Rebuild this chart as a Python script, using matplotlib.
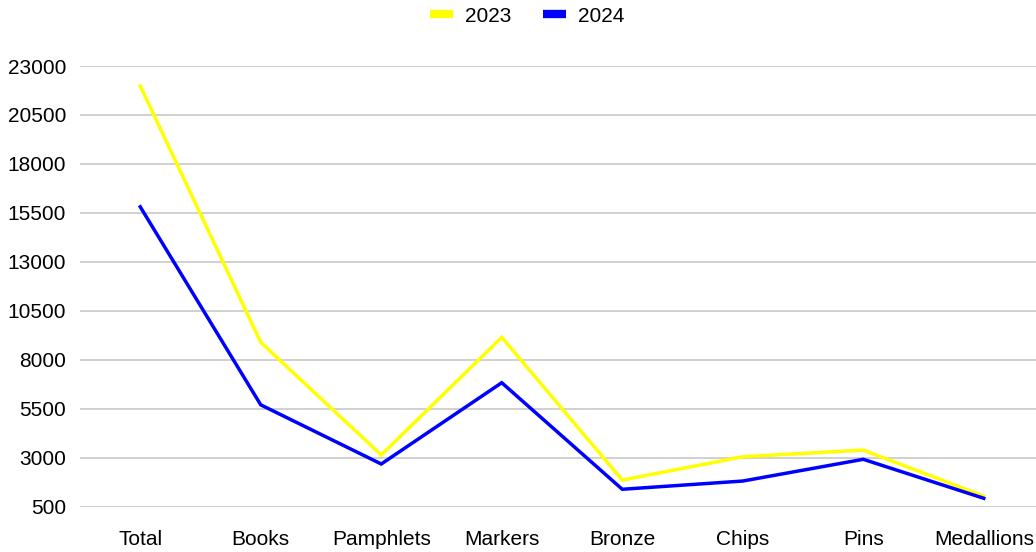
import matplotlib.pyplot as plt
from matplotlib.lines import Line2D

plt.rcParams['font.family'] = ['Liberation Sans', 'DejaVu Sans']

categories = ['Total', 'Books', 'Pamphlets', 'Markers', 'Bronze', 'Chips', 'Pins', 'Medallions']
values_2023 = [21980, 8890, 3140, 9150, 1860, 3050, 3390, 1040]
values_2024 = [15810, 5700, 2680, 6830, 1390, 1810, 2920, 930]
yticks = [500, 3000, 5500, 8000, 10500, 13000, 15500, 18000, 20500, 23000]

fig = plt.figure(figsize=(10.36, 5.52), dpi=100)
ax = fig.add_axes([80 / 1036, 1 - 506.7 / 552, 964 / 1036, 440.7 / 552])

x = range(len(categories))
ax.plot(x, values_2023, color='#ffff00', lw=2.5, solid_joinstyle='miter', zorder=3)
ax.plot(x, values_2024, color='#0000ff', lw=2.5, solid_joinstyle='miter', zorder=4)

ax.set_xlim(-0.5, len(categories) - 0.5)
ax.set_ylim(500, 23000)
ax.set_yticks(yticks)
ax.set_yticklabels([str(v) for v in yticks])
ax.set_xticks(list(x))
ax.set_xticklabels(categories)
ax.tick_params(axis='both', length=0, labelsize=15, colors='#000000')
ax.tick_params(axis='y', pad=10)
ax.tick_params(axis='x', pad=17)
ax.grid(axis='y', color='#c8c8c8', lw=1.2)
ax.set_axisbelow(True)
for s in ax.spines.values():
    s.set_visible(False)

handles = [Line2D([], [], color='#ffff00', lw=6, solid_capstyle='butt'),
           Line2D([], [], color='#0000ff', lw=6, solid_capstyle='butt')]
fig.legend(handles, ['2023', '2024'], loc='center', bbox_to_anchor=(527 / 1036, 1 - 16 / 552),
           ncol=2, frameon=False, fontsize=15, handlelength=1.1, handletextpad=0.6,
           columnspacing=1.5)

fig.savefig('out.png', dpi=100)
